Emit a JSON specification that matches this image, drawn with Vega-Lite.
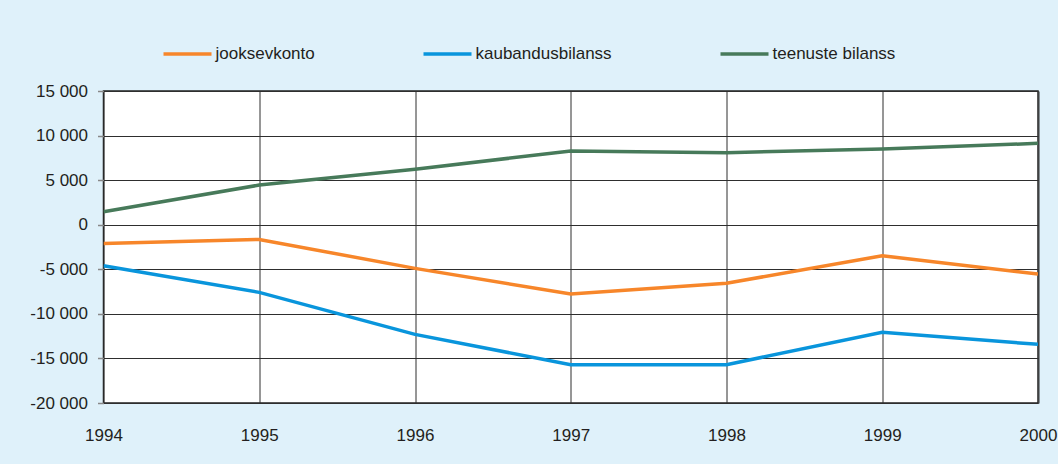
{
  "$schema": "https://vega.github.io/schema/vega-lite/v6.json",
  "width": 934.5,
  "height": 312,
  "autosize": {"type": "none"},
  "padding": {"left": 103.5, "top": 91, "right": 20, "bottom": 61},
  "background": "#dff1fa",
  "config": {
    "font": "Liberation Sans",
    "view": {"fill": "white", "stroke": "#222222", "strokeWidth": 1.5},
    "axis": {"labelFont": "Liberation Sans", "labelFontSize": 17, "labelColor": "#231f20", "domain": false, "gridColor": "#2e2e2e", "gridWidth": 1, "gridOpacity": 1, "title": null}
  },
  "data": {
    "values": [
      {"year": 1994, "series": "jooksevkonto", "value": -2100},
      {"year": 1995, "series": "jooksevkonto", "value": -1650},
      {"year": 1996, "series": "jooksevkonto", "value": -4900},
      {"year": 1997, "series": "jooksevkonto", "value": -7770},
      {"year": 1998, "series": "jooksevkonto", "value": -6570},
      {"year": 1999, "series": "jooksevkonto", "value": -3480},
      {"year": 2000, "series": "jooksevkonto", "value": -5530},
      {"year": 1994, "series": "kaubandusbilanss", "value": -4600},
      {"year": 1995, "series": "kaubandusbilanss", "value": -7590},
      {"year": 1996, "series": "kaubandusbilanss", "value": -12300},
      {"year": 1997, "series": "kaubandusbilanss", "value": -15700},
      {"year": 1998, "series": "kaubandusbilanss", "value": -15700},
      {"year": 1999, "series": "kaubandusbilanss", "value": -12070},
      {"year": 2000, "series": "kaubandusbilanss", "value": -13420},
      {"year": 1994, "series": "teenuste bilanss", "value": 1460},
      {"year": 1995, "series": "teenuste bilanss", "value": 4450},
      {"year": 1996, "series": "teenuste bilanss", "value": 6220},
      {"year": 1997, "series": "teenuste bilanss", "value": 8270},
      {"year": 1998, "series": "teenuste bilanss", "value": 8080},
      {"year": 1999, "series": "teenuste bilanss", "value": 8490},
      {"year": 2000, "series": "teenuste bilanss", "value": 9130}
    ]
  },
  "mark": {"type": "line", "strokeWidth": 3.5, "clip": true},
  "encoding": {
    "x": {
      "field": "year", "type": "quantitative",
      "scale": {"domain": [1994, 2000], "nice": false, "zero": false},
      "axis": {"values": [1994, 1995, 1996, 1997, 1998, 1999, 2000], "format": "d", "labelFlush": false, "labelOverlap": false, "ticks": false, "labelPadding": 24, "grid": true}
    },
    "y": {
      "field": "value", "type": "quantitative",
      "scale": {"domain": [-20000, 15000], "nice": false},
      "axis": {"values": [-20000, -15000, -10000, -5000, 0, 5000, 10000, 15000], "labelExpr": "(datum.value < 0 ? '-' : '') + replace(format(abs(datum.value), ','), ',', ' ')", "ticks": true, "tickSize": 6, "tickColor": "#888888", "tickWidth": 1.5, "labelPadding": 10, "grid": true}
    },
    "color": {
      "field": "series", "type": "nominal",
      "scale": {"domain": ["jooksevkonto", "kaubandusbilanss", "teenuste bilanss"], "range": ["#f7862a", "#0995dc", "#477a5a"]},
      "legend": {
        "title": null, "orient": "none", "direction": "horizontal", "legendX": 58, "legendY": -63,
        "symbolType": "stroke", "symbolSize": 2304, "symbolStrokeWidth": 3.5,
        "labelFont": "Liberation Sans", "labelFontSize": 17, "labelColor": "#231f20", "labelOffset": 2,
        "columnPadding": 101, "padding": 0
      }
    }
  }
}
